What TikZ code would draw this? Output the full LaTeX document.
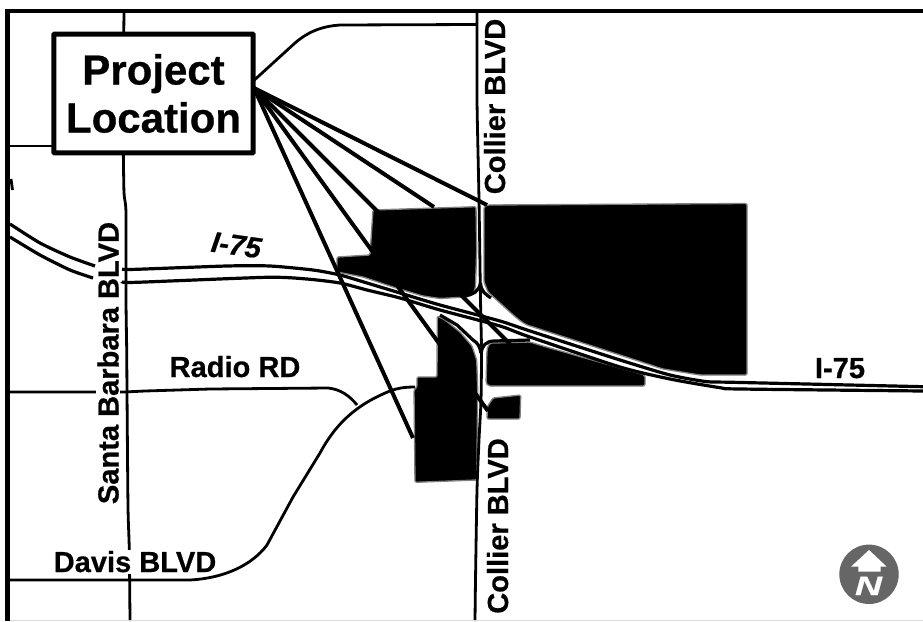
\documentclass[tikz,border=0pt]{standalone}
\usepackage{fontspec}
\setmainfont[BoldFeatures={FakeBold=0.6},BoldItalicFeatures={FakeBold=0.6}]{Liberation Sans}
\definecolor{edgegrey}{HTML}{808080}
\definecolor{northgrey}{HTML}{666666}
\tikzset{
  road/.style={draw=black,line width=2.1pt,line join=round},
  highway/.style={draw=black,line width=2.4pt,line join=round},
  leader/.style={draw=black,line width=3pt},
  parcel/.style={fill=black,draw=edgegrey,line width=1pt,line join=round},
  lbl/.style={font=\fontsize{21.8}{26}\selectfont\bfseries,fill=white,inner sep=1pt,anchor=base},
  lblplain/.style={font=\fontsize{21.8}{26}\selectfont\bfseries,inner sep=1pt,anchor=base}
}
\begin{document}
\begin{tikzpicture}[x=0.75pt,y=-0.75pt]
\useasboundingbox (0,0) rectangle (923,621);
% parcels
\fill[parcel,rounded corners=1pt] (373,210) -- (476,206.7) -- (476.7,250) -- (475.5,285) .. controls (475,292) and (472,296) .. (466,297) -- (440,298.5) -- (423,296) -- (393,287) -- (363,277) -- (337,272) -- (337,257) -- (370,255) -- cycle;
\fill[parcel,rounded corners=1pt] (488,205) -- (747,203.5) -- (747,375) -- (700,375) -- (663,369) -- (620,355) -- (527,325) .. controls (518,320) and (510,312) .. (500,303) -- (488,292) -- (484,282) -- (484,207) -- cycle;
\fill[parcel,rounded corners=1.5pt] (486,383) -- (487,350) .. controls (488,345) and (490,343) .. (494,343) -- (530,342) -- (543,346) -- (645,375) -- (645,386) -- (488,386) -- cycle;
\fill[parcel,rounded corners=1pt] (437.3,316) -- (445,320) -- (460,332) -- (472,346) -- (476.7,360) -- (477.7,390) -- (476.7,480) -- (415,482.3) -- (414,390) -- (417,387) -- (417,377) -- (437,377) -- cycle;
\fill[parcel,rounded corners=1pt] (487,419) -- (487.3,406.7) -- (493,398) -- (520.7,395) -- (520,419) -- cycle;
% roads
\draw[road] plot[smooth,tension=.4] coordinates {(477,11) (477,100) (479,200) (480.5,300) (481.5,350) (481,400) (479,440) (477,490) (475.5,580) (475,621)};
\draw[road] (124,11) -- (123.7,40);
\draw[road] plot[smooth,tension=.4] coordinates {(123.3,150) (124,193) (126,213) (126,300) (126.7,350) (127,392) (128,507) (129.3,550) (130,621)};
\draw[road] (10,146) -- (60,146);
\draw[road] (10,392) -- (124,392) -- (145,391) -- (210,389) -- (328,388) .. controls (340,389) and (350,396) .. (357,405);
\draw[road] (10,580) -- (190,580) .. controls (225,578) and (252,565) .. (267,545) -- (293,497) -- (320,453) .. controls (335,425) and (355,405) .. (390,391) .. controls (398,388) and (405,387) .. (415,387);
\draw[road] (250,84) -- (295,43) .. controls (310,30) and (325,26) .. (340,25) -- (477,24.5);
\draw[road] (11,179) -- (12.5,190);
% I-75
\draw[highway] plot[smooth,tension=.4] coordinates {(10,224) (40,243) (70,257) (95,266)};
\draw[highway] plot[smooth,tension=.4] coordinates {(10,237) (40,255) (70,270) (93,278)};
\draw[highway] plot[smooth,tension=.4] coordinates {(122,269.3) (136.7,269.3) (226.7,266) (270,266) (313,270) (340,275) (367,283) (400,293) (440,305) (500,321) (527,330) (620,360) (670,375) (707,381.7) (733,382.3) (923,386.7)};
\draw[highway] plot[smooth,tension=.4] coordinates {(122,281.7) (136.7,282.3) (266.7,277.3) (306.7,279) (340,283) (367,290) (400,298) (440,310) (500,326) (527,336) (620,367) (670,379) (720,387.7) (740,389) (923,391)};
% ramps
\draw[highway] (480.5,283) .. controls (479,291) and (474,295) .. (462,296);
\draw[highway] (480.5,283) .. controls (481,291) and (485,294) .. (491,298);
\draw[highway] (440,315) -- (457,325) -- (473,340) .. controls (478,343) and (480,347) .. (481,353);
\draw[highway] (481,353) .. controls (482,346) and (486,341) .. (494,341) -- (530,340);
% frame
\draw[line width=3.6pt] (5,11) -- (923,11);
\draw[line width=3.8pt] (7.5,9) -- (7.5,621);
\draw[black!15,line width=.6pt] (10,620.5) -- (923,620.5);
% project box
\node[draw=black,line width=3.8pt,fill=white,rounded corners=.6pt,minimum width=149.5pt,minimum height=89pt,inner sep=0pt,align=center,font=\fontsize{31.5}{36}\selectfont\bfseries] (box) at (153.5,93.5) {Project\\Location};
\coordinate (fan) at (254,88);
\coordinate (t1) at (487,205);
\coordinate (t2) at (434,207);
\coordinate (t3) at (510,344);
\coordinate (t4) at (488,411);
\coordinate (t5) at (413,438);
\foreach \t in {t1,t2,t3,t4,t5} \draw[leader] (fan) -- (\t);
% labels
\node[lbl,rotate=90] (santa) at (118.5,363) {Santa Barbara BLVD};
\node[lblplain,rotate=90] (coll1) at (505,106.5) {Collier BLVD};
\node[lblplain,rotate=90] (coll2) at (508,526) {Collier BLVD};
\node[lblplain] (radio) at (235,377) {Radio RD};
\node[lbl] (davis) at (135,572) {Davis BLVD};
\node[lblplain] (ieast) at (840,378) {I-75};
\node[lblplain,font=\fontsize{21.8}{26}\selectfont\bfseries\itshape,rotate=-8] (iwest) at (235,255) {I-75};
% north
\fill[northgrey] (869,574.3) circle (29.7);
\fill[white] (869,550) -- (886.7,566.7) -- (880.7,566.7) -- (880.7,571.7) -- (858.3,571.7) -- (858.3,566.7) -- (851,566.7) -- cycle;
\node[inner sep=0pt,anchor=base,text=white,font=\fontsize{20}{24}\selectfont\bfseries\itshape] (north) at (868.5,595) {\scalebox{1.4}[1]{N}};
\end{tikzpicture}
\end{document}
